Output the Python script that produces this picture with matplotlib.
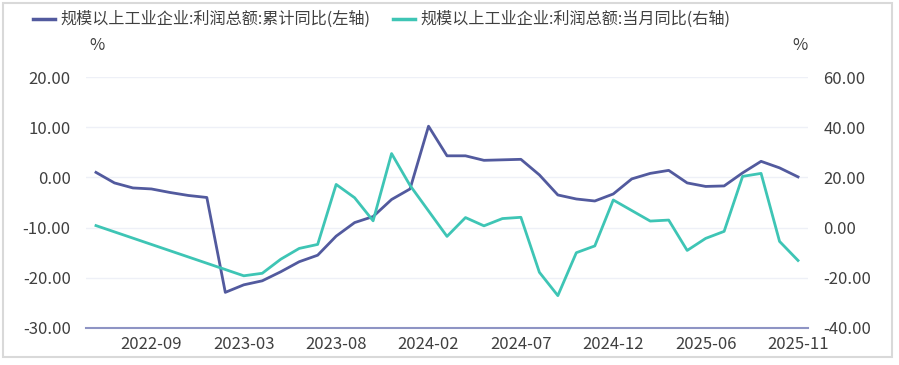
import numpy as np
import matplotlib.pyplot as plt
from matplotlib.patches import Rectangle

plt.rcParams['font.family'] = ['Noto Sans CJK SC', 'DejaVu Sans']

# months on a category axis (no January: Jan-Feb are reported together)
months = [
    "2022-06", "2022-07", "2022-08", "2022-09", "2022-10", "2022-11", "2022-12",
    "2023-02", "2023-03", "2023-04", "2023-05", "2023-06", "2023-07", "2023-08",
    "2023-09", "2023-10", "2023-11", "2023-12",
    "2024-02", "2024-03", "2024-04", "2024-05", "2024-06", "2024-07", "2024-08",
    "2024-09", "2024-10", "2024-11", "2024-12",
    "2025-02", "2025-03", "2025-04", "2025-05", "2025-06", "2025-07", "2025-08",
    "2025-09", "2025-10", "2025-11",
]

# cumulative yoy (left axis)
cum_yoy = [
    1.0, -1.1, -2.1, -2.3, -3.0, -3.6, -4.0,
    -22.9, -21.4, -20.6, -18.8, -16.8, -15.5, -11.7,
    -9.0, -7.8, -4.4, -2.3,
    10.2, 4.3, 4.3, 3.4, 3.5, 3.6, 0.5,
    -3.5, -4.3, -4.7, -3.3,
    -0.3, 0.8, 1.4, -1.1, -1.8, -1.7, 0.9,
    3.2, 1.9, 0.1,
]

# monthly yoy (right axis), None = not published
month_yoy = [
    0.8, None, None, None, None, None, None,
    None, -19.2, -18.2, -12.6, -8.3, -6.7, 17.2,
    11.9, 2.7, 29.5, 16.8,
    None, -3.5, 4.0, 0.7, 3.6, 4.1, -17.8,
    -27.1, -10.0, -7.3, 11.0,
    None, 2.6, 3.0, -9.1, -4.3, -1.5, 20.4,
    21.6, -5.5, -13.1,
]

tick_idx = [3, 8, 13, 18, 23, 28, 33, 38]

blue = "#525a9e"
teal = "#3ec5b5"
txt = "#404040"

fig = plt.figure(figsize=(8.99, 3.65), dpi=100)
ax = fig.add_axes([86 / 899, 1 - 328 / 365, (808 - 86) / 899, (328 - 77) / 365])
ax2 = ax.twinx()

x = np.arange(len(months))
ax.plot(x, cum_yoy, color=blue, lw=2, zorder=3)
xm = [i for i, v in enumerate(month_yoy) if v is not None]
ym = [v for v in month_yoy if v is not None]
ax2.plot(xm, ym, color=teal, lw=2, zorder=3)

ax.set_xlim(-0.54, len(months) - 1 + 0.54)
ax.set_ylim(-30, 20)
ax.set_yticks(np.arange(-30, 21, 10))
ax.set_yticklabels([f"{v:.2f}" for v in np.arange(-30, 21, 10)])
ax2.set_ylim(-40, 60)
ax2.set_yticks(np.arange(-40, 61, 20))
ax2.set_yticklabels([f"{v:.2f}" for v in np.arange(-40, 61, 20)])

ax.set_xticks(tick_idx)
ax.set_xticklabels([months[i] for i in tick_idx])

ax.grid(axis="y", color="#eef0f7", lw=1)
ax.set_axisbelow(True)
for a in (ax, ax2):
    for s in a.spines.values():
        s.set_visible(False)
    a.tick_params(length=0, labelsize=12, labelcolor=txt)
ax.spines["bottom"].set_visible(True)
ax.spines["bottom"].set_color("#8e94c4")
ax.spines["bottom"].set_linewidth(1.5)
ax.tick_params(axis="y", pad=11)
ax.tick_params(axis="x", pad=6)
ax2.tick_params(axis="y", pad=11)

# legend and unit labels
fig.add_artist(plt.Line2D([33 / 899, 55 / 899], [1 - 19 / 365] * 2, color=blue, lw=2.5))
fig.text(60 / 899, 1 - 19 / 365, "规模以上工业企业:利润总额:累计同比(左轴)",
         fontsize=11.6, color=txt, va="center")
fig.add_artist(plt.Line2D([393 / 899, 415 / 899], [1 - 19 / 365] * 2, color=teal, lw=2.5))
fig.text(420 / 899, 1 - 19 / 365, "规模以上工业企业:利润总额:当月同比(右轴)",
         fontsize=11.6, color=txt, va="center")
fig.text(97 / 899, 1 - 45 / 365, "%", fontsize=12, color=txt, ha="center", va="center")
fig.text(800 / 899, 1 - 45 / 365, "%", fontsize=12, color=txt, ha="center", va="center")

fig.add_artist(Rectangle((3 / 899, 1 - 357 / 365), 889 / 899, 354 / 365,
                         transform=fig.transFigure, fill=False,
                         edgecolor="#d9d9d9", lw=1.5))

fig.savefig("out.png", dpi=100)
